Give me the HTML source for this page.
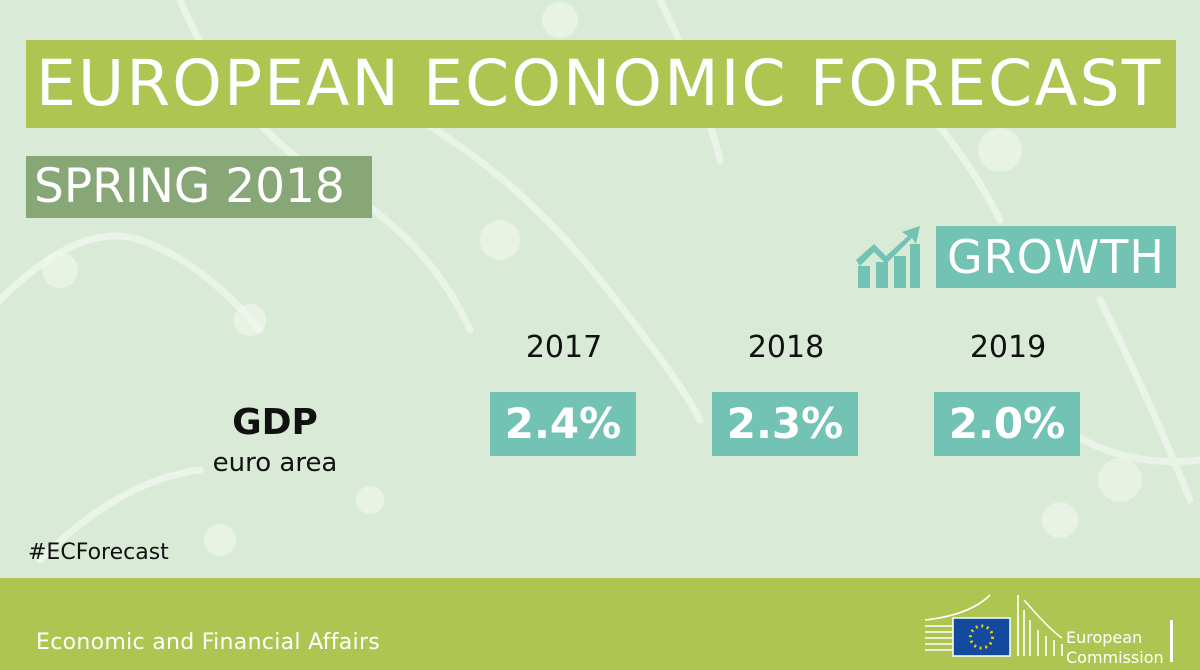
<!DOCTYPE html>
<html><head><meta charset="utf-8"><style>
body{margin:0;width:1200px;height:670px;overflow:hidden;background:#d9ebd6;font-family:"DejaVu Sans","Liberation Sans",sans-serif;position:relative}
.abs{position:absolute}
#title{left:26px;top:40px;width:1150px;height:88px;background:#afc552;color:#fff;font-size:63px;line-height:88px;padding-left:10px;box-sizing:border-box;letter-spacing:2.2px;white-space:nowrap}
#spring{left:26px;top:156px;width:346px;height:62px;background:#88a777;color:#fff;font-size:47px;line-height:62px;padding-left:8px;box-sizing:border-box;white-space:nowrap}
#growth{left:936px;top:226px;width:240px;height:62px;background:#72c3b4;color:#fff;font-size:46px;line-height:62px;text-align:center;letter-spacing:1px}
.yr{font-size:30px;color:#111;width:148px;text-align:center;top:330px}
.val{top:392px;height:64px;width:146px;background:#72c3b4;color:#fff;font-size:42px;font-weight:bold;line-height:64px;text-align:center}
#footer{left:0;top:578px;width:1200px;height:92px;background:#afc552}
</style></head><body>
<svg class="abs" style="left:0;top:0" width="1200" height="670">
<g fill="none" stroke="#eef6ec" stroke-width="7" opacity="0.8" stroke-linecap="round">
<path d="M0 300 Q80 220 140 240 T260 330"/><path d="M180 0 Q230 120 330 180 T470 330"/>
<path d="M420 120 Q520 180 600 280 T700 420"/><path d="M880 60 Q960 140 1000 220"/>
<path d="M1100 300 Q1150 400 1190 500"/><path d="M40 560 Q120 480 200 470"/>
<path d="M660 0 Q700 80 720 160"/><path d="M1050 420 Q1120 470 1200 460"/>
</g>
<g fill="#eef6ec" opacity="0.7">
<circle cx="60" cy="270" r="18"/><circle cx="250" cy="320" r="16"/><circle cx="500" cy="240" r="20"/>
<circle cx="560" cy="20" r="18"/><circle cx="1000" cy="150" r="22"/><circle cx="1120" cy="480" r="22"/>
<circle cx="220" cy="540" r="16"/><circle cx="1060" cy="520" r="18"/><circle cx="370" cy="500" r="14"/>
</g></svg>
<div id="title" class="abs">EUROPEAN ECONOMIC FORECAST</div>
<div id="spring" class="abs">SPRING 2018</div>
<svg class="abs" style="left:856px;top:226px" width="64" height="62">
<g fill="#72c3b4"><rect x="2" y="40" width="12" height="22"/><rect x="20" y="36" width="12" height="26"/><rect x="38" y="30" width="12" height="32"/><rect x="54" y="18" width="10" height="44"/>
<path d="M0 34 L18 18 L30 30 L52 10 L46 6 L64 0 L60 18 L56 12 L30 38 L18 26 L4 40Z"/></g></svg>
<div id="growth" class="abs">GROWTH</div>
<div class="abs" style="left:200px;top:402px;width:150px;text-align:center;font-size:36px;font-weight:bold;color:#111">GDP</div>
<div class="abs" style="left:200px;top:448px;width:150px;text-align:center;font-size:26px;color:#111">euro area</div>
<div id="vals"></div>
<div class="abs" style="left:28px;top:540px;font-size:22px;color:#111">#ECForecast</div>
<div id="footer" class="abs"></div>
<div class="abs" style="left:36px;top:630px;font-size:22px;color:#fff;letter-spacing:0.3px">Economic and Financial Affairs</div>
<svg class="abs" style="left:920px;top:590px" width="260" height="75">
<g stroke="#fff" stroke-width="1.6" fill="none">
<path d="M5 30 Q50 25 70 5 M5 36 H70 M5 42 H70 M5 48 H70 M5 54 H70 M5 60 H70"/>
<path d="M98 5 V66 M104 10 Q130 40 142 48 M104 20 V66 M110 30 V66 M118 40 V66 M126 46 V66 M134 50 V66 M142 54 V66"/>
</g>
<rect x="33" y="28" width="57" height="38" fill="#134a9e" stroke="#fff" stroke-width="1.5"/>
<circle cx="61.5" cy="47" r="11" fill="none" stroke="#f5d000" stroke-width="3" stroke-dasharray="2 3.7"/>
<text x="146" y="53" fill="#fff" font-size="16" font-family="DejaVu Sans, sans-serif">European</text>
<text x="146" y="73" fill="#fff" font-size="16" font-family="DejaVu Sans, sans-serif">Commission</text>
<rect x="250" y="30" width="3" height="42" fill="#fff"/>
</svg>
<script>
const years=["2017","2018","2019"];
const values=[2.4,2.3,2.0];
const lefts=[490,712,934];
const c=document.getElementById('vals');
years.forEach((y,i)=>{
const t=document.createElement('div');t.className='abs yr';t.style.left=lefts[i]+'px';t.textContent=y;


c.appendChild(t);
const v=document.createElement('div');v.className='abs val';v.style.left=lefts[i]+'px';v.textContent=values[i].toFixed(1)+'%';


c.appendChild(v);
});
</script>
</body></html>
